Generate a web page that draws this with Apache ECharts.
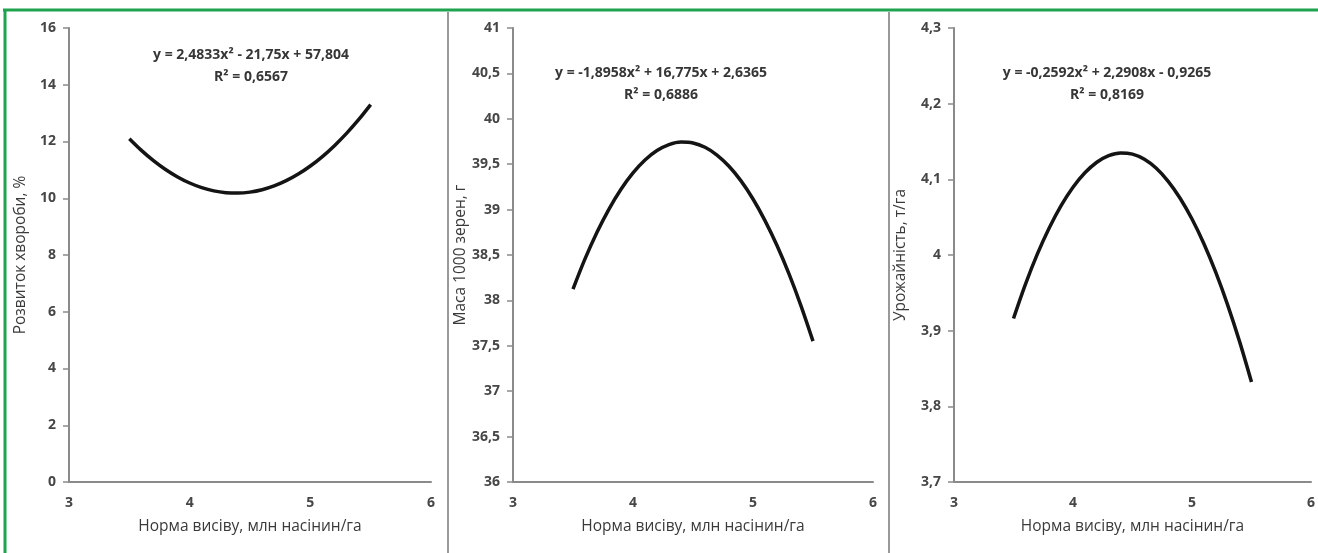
<!DOCTYPE html>
<html>
<head>
<meta charset="utf-8">
<script src="https://cdn.jsdelivr.net/npm/echarts@6/dist/echarts.min.js"></script>
<style>
html,body{margin:0;padding:0;background:#fff;}
#c{width:1318px;height:553px;}
</style>
</head>
<body>
<div id="c"></div>
<script>
// ---- data ----
const xValues = [3.5, 3.6, 3.7, 3.8, 3.9, 4.0, 4.1, 4.2, 4.3, 4.4, 4.5, 4.6, 4.7, 4.8, 4.9, 5.0, 5.1, 5.2, 5.3, 5.4, 5.5];
const diseaseValues = [12.099, 11.688, 11.325, 11.013, 10.750, 10.537, 10.373, 10.259, 10.195, 10.181, 10.216,
                       10.301, 10.435, 10.619, 10.853, 11.137, 11.470, 11.853, 12.285, 12.767, 13.299];
const grainMassValues = [38.125, 38.457, 38.751, 39.006, 39.224, 39.404, 39.546, 39.650, 39.716, 39.744, 39.734,
                         39.686, 39.601, 39.477, 39.316, 39.117, 38.879, 38.604, 38.291, 37.940, 37.551];
const yieldValues = [3.9161, 3.9612, 4.0011, 4.0357, 4.0652, 4.0895, 4.1086, 4.1226, 4.1313, 4.1349, 4.1333,
                     4.1265, 4.1146, 4.0973, 4.0750, 4.0475, 4.0148, 3.9769, 3.9338, 3.8855, 3.8321];

const xTitle = 'Норма висіву, млн насінин/га';
const yTitles = ['Розвиток хвороби, %', 'Маса 1000 зерен, г', 'Урожайність, т/га'];
const equations = [
  ['y = 2,4833x² - 21,75x + 57,804', 'R² = 0,6567'],
  ['y = -1,8958x² + 16,775x + 2,6365', 'R² = 0,6886'],
  ['y = -0,2592x² + 2,2908x - 0,9265', 'R² = 0,8169']
];
const xAxisRange = {min: 3, max: 6, interval: 1};
const yAxisRanges = [
  {min: 0, max: 16, interval: 2},
  {min: 36, max: 41, interval: 0.5},
  {min: 3.7, max: 4.3, interval: 0.1}
];
const seriesValues = [diseaseValues, grainMassValues, yieldValues];

// ---- layout / style ----
const FONT = '"Open Sans", "Noto Sans", sans-serif';
const gridsPos = [
  {left: 69, top: 28, width: 362, height: 454},
  {left: 513, top: 28, width: 360, height: 454},
  {left: 954, top: 28, width: 358, height: 454}
];
const yNameGaps = [40, 43, 45];
const eqPos = [[251, 55], [661, 73], [1107, 73]];

function fmt(v) {
  return String(parseFloat(v.toFixed(2))).replace('.', ',');
}

const axisColor = '#8a8a8a';
const labelColor = '#464646';

const option = {
  backgroundColor: '#fff',
  animation: false,
  grid: gridsPos.map(g => Object.assign({containLabel: false}, g)),
  xAxis: gridsPos.map((g, i) => ({
    type: 'value', gridIndex: i,
    min: xAxisRange.min, max: xAxisRange.max, interval: xAxisRange.interval,
    name: xTitle, nameLocation: 'middle', nameGap: 37,
    nameTextStyle: {fontFamily: FONT, fontSize: 15.5, color: '#3a3a3a'},
    axisLine: {show: true, onZero: false, lineStyle: {color: axisColor, width: 2}},
    axisTick: {show: false},
    splitLine: {show: false},
    axisLabel: {margin: 14, fontFamily: FONT, fontSize: 14, fontWeight: 'bold', color: labelColor, formatter: fmt}
  })),
  yAxis: yAxisRanges.map((r, i) => ({
    type: 'value', gridIndex: i,
    min: r.min, max: r.max, interval: r.interval,
    name: yTitles[i], nameLocation: 'middle', nameGap: yNameGaps[i], nameRotate: 90,
    nameTextStyle: {fontFamily: FONT, fontSize: 15.5, color: '#3a3a3a'},
    axisLine: {show: true, lineStyle: {color: axisColor, width: 2}},
    axisTick: {show: true, length: 6, lineStyle: {color: axisColor, width: 1.5}},
    splitLine: {show: false},
    axisLabel: {margin: 13, fontFamily: FONT, fontSize: 14, fontWeight: 'bold', color: labelColor, formatter: fmt}
  })),
  series: seriesValues.map((vals, i) => ({
    type: 'line', xAxisIndex: i, yAxisIndex: i,
    data: xValues.map((x, k) => [x, vals[k]]),
    smooth: 0.3, showSymbol: false,
    lineStyle: {color: '#141414', width: 3.5},
    silent: true
  })),
  graphic: [
    // green frame
    {type: 'line', shape: {x1: 3, y1: 10, x2: 1318, y2: 10}, style: {stroke: '#1fa34e', lineWidth: 3}},
    {type: 'line', shape: {x1: 5, y1: 9, x2: 5, y2: 553}, style: {stroke: '#1fa34e', lineWidth: 3}},
    // panel separators
    {type: 'line', shape: {x1: 448, y1: 12, x2: 448, y2: 553}, style: {stroke: '#999', lineWidth: 2}},
    {type: 'line', shape: {x1: 889, y1: 12, x2: 889, y2: 553}, style: {stroke: '#999', lineWidth: 2}}
  ].concat(...equations.map((eq, i) => [
    {type: 'text', x: eqPos[i][0], y: eqPos[i][1],
     style: {text: eq[0], fill: '#363636', font: 'bold 14px ' + FONT, textAlign: 'center', textVerticalAlign: 'middle'}},
    {type: 'text', x: eqPos[i][0], y: eqPos[i][1] + 22,
     style: {text: eq[1], fill: '#363636', font: 'bold 14px ' + FONT, textAlign: 'center', textVerticalAlign: 'middle'}}
  ]))
};

const chart = echarts.init(document.getElementById('c'), null, {renderer: 'canvas'});
chart.setOption(option);
</script>
</body>
</html>
